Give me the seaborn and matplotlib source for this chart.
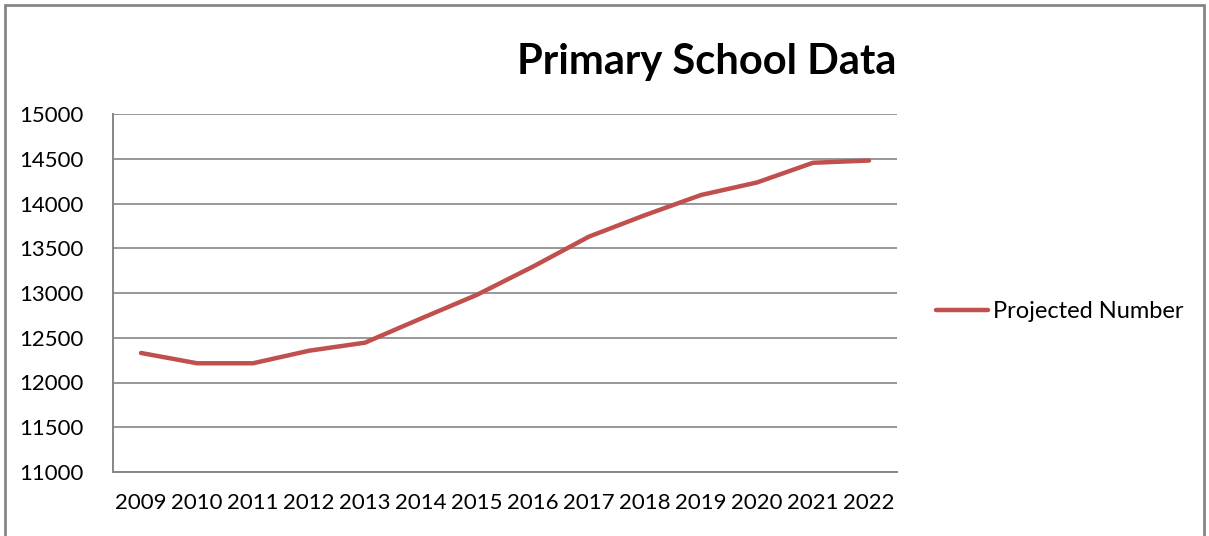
import numpy as np
import pandas as pd
import matplotlib
matplotlib.use("Agg")
import matplotlib.pyplot as plt
from matplotlib.patches import Rectangle
from matplotlib.ticker import FixedLocator, NullFormatter
import seaborn as sns

# Data
years = ['2009', '2010', '2011', '2012', '2013', '2014', '2015',
         '2016', '2017', '2018', '2019', '2020', '2021', '2022']
projected = [12330, 12215, 12215, 12355, 12445, 12715, 12980,
             13295, 13630, 13870, 14095, 14235, 14455, 14480]
y_ticks = [11000, 11500, 12000, 12500, 13000, 13500, 14000, 14500, 15000]

sns.set_style("white")
plt.rcParams['font.family'] = ['Lato', 'DejaVu Sans']
plt.rcParams['text.color'] = 'black'
plt.rcParams['xtick.labelcolor'] = 'black'
plt.rcParams['ytick.labelcolor'] = 'black'

df = pd.DataFrame({'pos': np.arange(len(years)), 'value': projected,
                   'series': 'Projected Number'})

fig = plt.figure(figsize=(12.09, 5.36), dpi=100)
ax = fig.add_axes([113 / 1209, 1 - 472 / 536, 784 / 1209, 358 / 536])

grid_col = '#868686'
line_col = '#C0504D'

sns.lineplot(data=df, x='pos', y='value', hue='series', palette=[line_col],
             linewidth=3.2, ax=ax, legend=False)

ax.set_xlim(-0.5, len(years) - 0.5)
ax.set_ylim(y_ticks[0], y_ticks[-1])

# y axis
ax.set_yticks(y_ticks)
ax.set_yticklabels([str(t) for t in y_ticks], fontsize=16)
ax.yaxis.grid(True, color=grid_col, linewidth=1.2)
ax.set_axisbelow(True)

# x axis: ticks between categories, labels at centres
ax.xaxis.set_major_locator(FixedLocator(np.arange(len(years) + 1) - 0.5))
ax.xaxis.set_major_formatter(NullFormatter())
ax.xaxis.set_minor_locator(FixedLocator(np.arange(len(years))))
ax.set_xticklabels(years, minor=True, fontsize=16)
ax.tick_params(axis='x', which='major', length=7, width=1.2, color=grid_col, direction='out')
ax.tick_params(axis='x', which='minor', length=0, pad=15)
ax.tick_params(axis='y', length=7, width=1.2, color=grid_col, direction='out', pad=14)

for side in ['top', 'right']:
    ax.spines[side].set_visible(False)
for side in ['left', 'bottom']:
    ax.spines[side].set_color(grid_col)
    ax.spines[side].set_linewidth(1.4)

ax.set_xlabel('')
ax.set_ylabel('')

# legend on the right
leg_line = plt.Line2D([], [], color=line_col, linewidth=3.2, label='Projected Number')
fig.legend(handles=[leg_line], loc='center left',
           bbox_to_anchor=(936 / 1209, 1 - 312 / 536), frameon=False,
           fontsize=17, handlelength=2.2, handletextpad=0.2,
           borderpad=0, borderaxespad=0)

# title
fig.text(707 / 1209, 1 - 62 / 536, 'Primary School Data', ha='center', va='center',
         fontsize=30, fontweight='bold')

# chart area border
fig.patches.append(Rectangle((5 / 1209, -0.01), 1199 / 1209, 1 - 5 / 536 + 0.01,
                             transform=fig.transFigure, fill=False,
                             edgecolor=grid_col, linewidth=2))

fig.savefig('out.png', dpi=100)
